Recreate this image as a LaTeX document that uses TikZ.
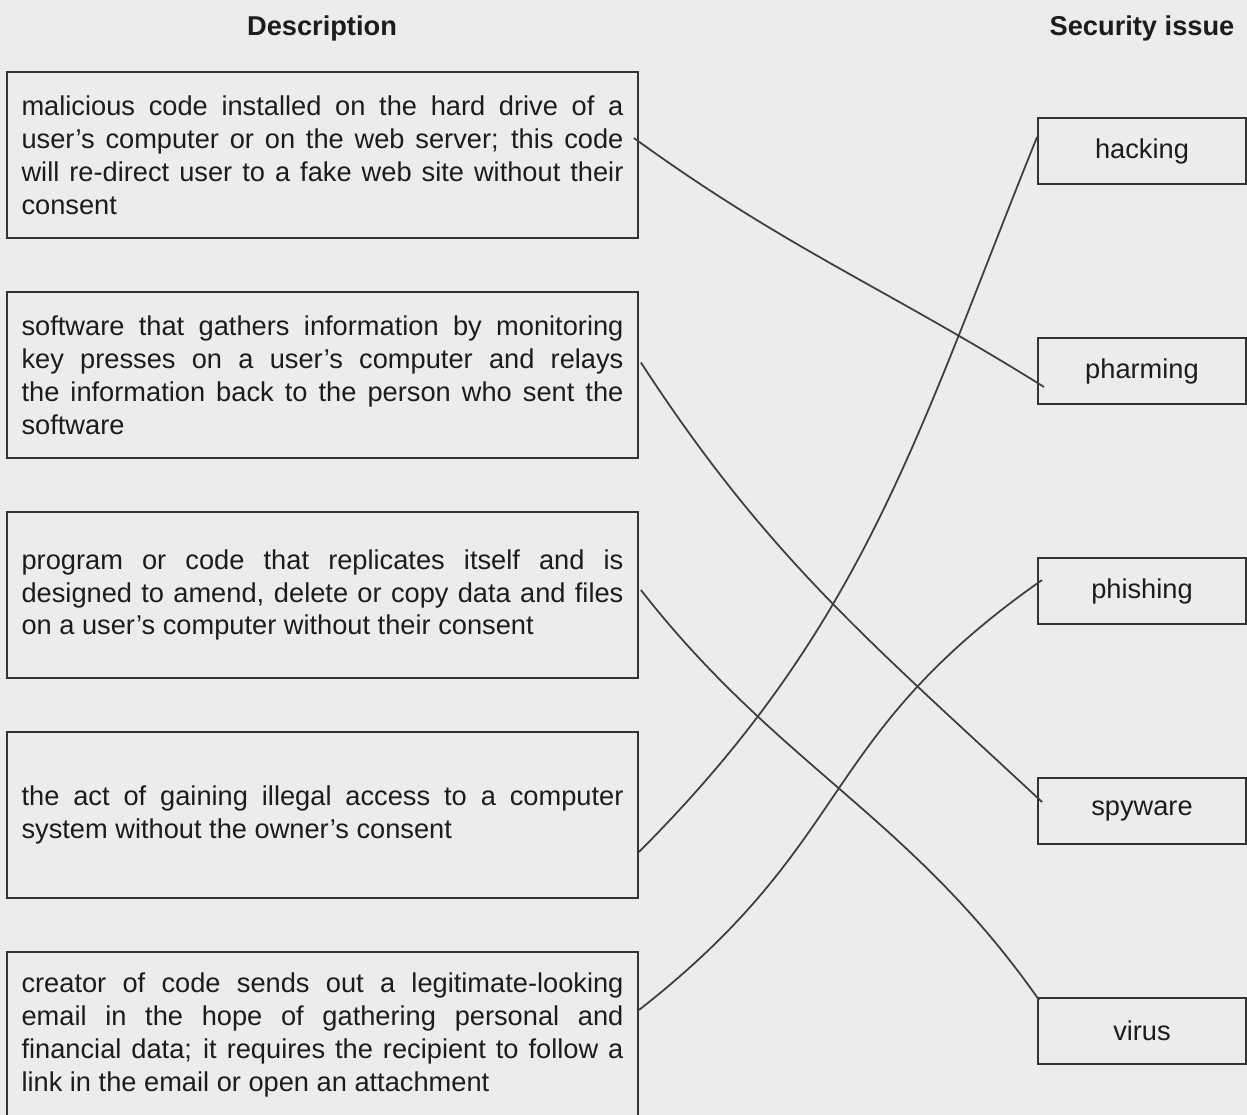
\documentclass[tikz,border=0pt]{standalone}
\usepackage{fontspec}
\setmainfont{Liberation Sans}
\definecolor{paper}{RGB}{236,236,236}
\definecolor{ink}{RGB}{28,28,28}
\hyphenpenalty=10000
\exhyphenpenalty=10000

\begin{document}
\begin{tikzpicture}[x=0.02cm,y=-0.02cm,
	desc/.style={draw=ink!90,line width=1.1pt,text=ink,text width=12.04cm,inner xsep=0.29cm,minimum height=3.32cm,align=justify,font=\fontsize{15.5}{18.7}\selectfont},
	issue/.style={draw=ink!90,line width=1.1pt,text=ink,minimum width=4.16cm,minimum height=1.32cm,font=\fontsize{15.5}{18.7}\selectfont},
	head/.style={text=ink,font=\fontsize{15.5}{18.7}\selectfont\bfseries},
	link/.style={ink!85,line width=1pt}]
	\fill[paper] (0,0) rectangle (1247,1115);
	\useasboundingbox (0,0) rectangle (1247,1115);
	\clip (0,0) rectangle (1247,1115);
	\node[head] (hdesc) at (322,28) {Description};
	\node[head] (hissue) at (1142,28) {Security issue};
	\node[desc] (d1) at (322.5,155) {malicious code installed on the hard drive of a\linebreak user's computer or on the web server; this code\linebreak will re-direct user to a fake web site without their\linebreak consent};
	\node[desc] (d2) at (322.5,375) {software that gathers information by monitoring\linebreak key presses on a user's computer and relays\linebreak the information back to the person who sent the\linebreak software};
	\node[desc] (d3) at (322.5,595) {program or code that replicates itself and is\linebreak designed to amend, delete or copy data and files\linebreak on a user's computer without their consent};
	\node[desc] (d4) at (322.5,815) {the act of gaining illegal access to a computer\linebreak system without the owner's consent};
	\node[desc] (d5) at (322.5,1035) {creator of code sends out a legitimate-looking\linebreak email in the hope of gathering personal and\linebreak financial data; it requires the recipient to follow a\linebreak link in the email or open an attachment};
	\node[issue] (hacking) at (1142,151) {hacking};
	\node[issue] (pharming) at (1142,371) {pharming};
	\node[issue] (phishing) at (1142,591) {phishing};
	\node[issue] (spyware) at (1142,811) {spyware};
	\node[issue] (virus) at (1142,1031) {virus};
	\draw[link] ([shift={(-0.1cm,0.34cm)}]d1.east) to[out=-36,in=148] ([shift={(0.14cm,-0.32cm)}]pharming.west);
	\draw[link] ([shift={(0.04cm,0.25cm)}]d2.east) to[out=-57,in=137] ([shift={(0.1cm,0.18cm)}]spyware.west);
	\draw[link] ([shift={(0.04cm,0.1cm)}]d3.east) to[out=-52,in=125] ([shift={(0.04cm,0.62cm)}]virus.west);
	\draw[link] (d4.east |- 0,852) to[out=45,in=-112] ([shift={(0cm,0.28cm)}]hacking.west);
	\draw[link] ([shift={(0cm,0.5cm)}]d5.east) to[out=38,in=-145,looseness=1.2] ([shift={(0.1cm,0.22cm)}]phishing.west);
\end{tikzpicture}
\end{document}
